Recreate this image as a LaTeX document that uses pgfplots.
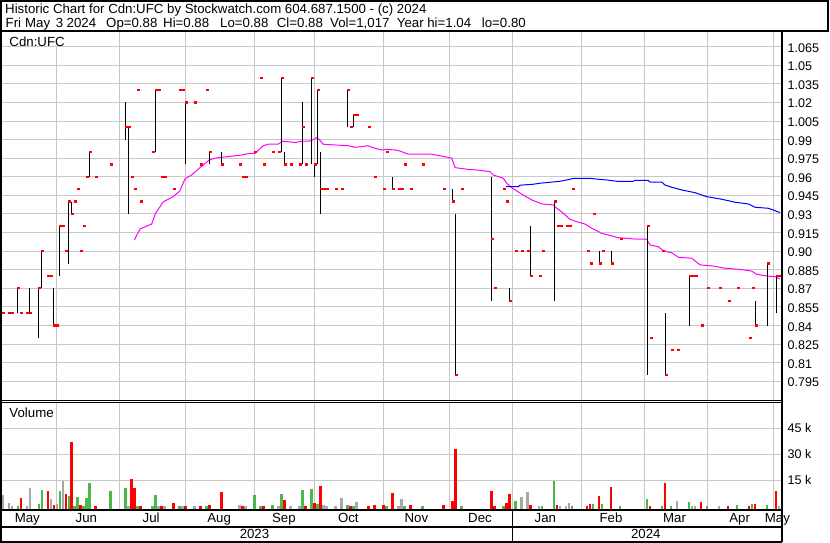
\documentclass[border=0pt]{standalone}
\usepackage{pgfplots}
\pgfplotsset{compat=1.18}
\usepackage{pgfplotstable}
\usepackage{fontspec}
\setmainfont{Liberation Sans}
\definecolor{gridgrey}{RGB}{200,200,200}
\definecolor{volgreen}{RGB}{76,184,72}
\definecolor{volgrey}{RGB}{168,168,168}
\definecolor{maMag}{RGB}{255,0,255}
\definecolor{maBlue}{RGB}{0,0,255}
\newcommand{\hfont}{\fontsize{13.3}{15}\selectfont}
\newcommand{\tfont}{\fontsize{12.6}{14}\selectfont}
\pgfdeclareplotmark{closetick}{\pgfpathrectangle{\pgfqpoint{-0.5bp}{-1.1bp}}{\pgfqpoint{3.1bp}{2.2bp}}\pgfusepath{fill}}

% day index (weekdays from 3 May 2023), high, low, close
\pgfplotstableread{
x hi lo cl
3 0.85 0.85 0.85
5 0.85 0.85 0.85
6 0.85 0.85 0.85
8 0.87 0.85 0.87
9 0.85 0.85 0.85
11 0.85 0.85 0.85
12 0.87 0.85 0.85
15 0.87 0.83 0.87
16 0.90 0.87 0.90
18 0.88 0.88 0.88
19 0.88 0.88 0.88
20 0.87 0.84 0.84
21 0.84 0.84 0.84
22 0.92 0.88 0.92
23 0.92 0.92 0.92
24 0.90 0.90 0.90
25 0.94 0.89 0.94
26 0.94 0.93 0.93
27 0.94 0.94 0.94
28 0.95 0.95 0.95
29 0.90 0.90 0.90
30 0.92 0.92 0.92
31 0.96 0.96 0.96
32 0.98 0.96 0.98
34 0.96 0.96 0.96
39 0.97 0.97 0.97
44 1.02 0.99 1.00
45 1.00 0.93 1.00
46 0.96 0.96 0.96
47 0.95 0.95 0.95
48 1.03 1.03 1.03
49 0.94 0.94 0.94
53 0.98 0.98 0.98
54 1.03 0.98 1.03
55 1.03 1.03 1.03
56 0.96 0.96 0.96
57 0.96 0.96 0.96
60 0.95 0.95 0.95
62 1.03 1.03 1.03
63 1.03 1.03 1.03
64 1.02 0.97 1.02
67 1.02 1.02 1.02
69 0.97 0.97 0.97
71 1.03 1.03 1.03
72 0.98 0.97 0.98
76 0.98 0.97 0.97
82 0.97 0.97 0.97
83 0.96 0.96 0.96
84 0.96 0.96 0.96
87 0.98 0.98 0.98
89 1.04 1.04 1.04
90 0.97 0.97 0.97
93 0.98 0.98 0.98
95 0.98 0.98 0.98
96 1.04 0.98 1.04
97 0.98 0.97 0.97
99 0.97 0.97 0.97
102 0.97 0.97 0.97
103 1.02 0.97 1.00
104 0.97 0.97 0.97
106 1.04 0.97 1.04
107 0.97 0.96 0.97
108 1.03 0.97 1.03
109 0.98 0.93 0.95
110 0.95 0.95 0.95
111 0.95 0.95 0.95
114 0.95 0.95 0.95
116 0.95 0.95 0.95
118 1.03 1.00 1.03
119 1.00 1.00 1.00
120 1.01 1.00 1.01
121 1.01 1.01 1.01
125 1.00 1.00 1.00
127 0.96 0.96 0.96
130 0.95 0.95 0.95
131 0.98 0.98 0.98
133 0.96 0.95 0.95
135 0.95 0.95 0.95
136 0.95 0.95 0.95
137 0.97 0.97 0.97
139 0.95 0.95 0.95
143 0.97 0.97 0.97
150 0.95 0.95 0.95
153 0.95 0.94 0.94
154 0.93 0.80 0.80
156 0.95 0.95 0.95
166 0.96 0.86 0.91
167 0.87 0.87 0.87
170 0.95 0.95 0.95
171 0.94 0.94 0.94
172 0.87 0.86 0.86
174 0.90 0.90 0.90
176 0.90 0.90 0.90
178 0.90 0.90 0.90
179 0.92 0.88 0.88
182 0.88 0.88 0.88
183 0.90 0.90 0.90
187 0.94 0.86 0.94
188 0.92 0.92 0.92
189 0.92 0.92 0.92
191 0.92 0.92 0.92
192 0.92 0.92 0.92
193 0.95 0.95 0.95
198 0.90 0.90 0.90
199 0.89 0.89 0.89
200 0.93 0.93 0.93
202 0.90 0.89 0.89
203 0.90 0.90 0.90
206 0.90 0.89 0.89
209 0.91 0.91 0.91
218 0.92 0.80 0.92
219 0.83 0.83 0.83
223 0.90 0.90 0.90
224 0.85 0.80 0.80
226 0.82 0.82 0.82
228 0.82 0.82 0.82
232 0.88 0.84 0.88
233 0.88 0.88 0.88
234 0.88 0.88 0.88
236 0.84 0.84 0.84
238 0.87 0.87 0.87
242 0.87 0.87 0.87
245 0.86 0.86 0.86
248 0.87 0.87 0.87
252 0.83 0.83 0.83
253 0.87 0.87 0.87
254 0.86 0.84 0.84
258 0.89 0.84 0.89
261 0.88 0.85 0.88
262 0.88 0.88 0.88
}\ohlc

\pgfplotstableread{
x y
46.9 0.9090
48.8 0.9179
52.7 0.9219
54.0 0.9306
56.6 0.9399
59.9 0.9440
62.1 0.9486
63.8 0.9583
66.0 0.9615
68.8 0.9674
71.9 0.9736
73.8 0.9750
76.0 0.9758
79.2 0.9766
82.7 0.9776
84.9 0.9787
87.2 0.9790
89.9 0.9851
91.6 0.9863
94.9 0.9863
96.3 0.9887
98.3 0.9883
100.5 0.9876
102.7 0.9887
105.5 0.9889
106.9 0.9903
107.7 0.9916
108.5 0.9903
109.9 0.9863
112.2 0.9859
118.3 0.9851
120.5 0.9838
122.7 0.9843
124.7 0.9851
127.2 0.9830
129.4 0.9816
131.1 0.9822
133.9 0.9816
135.5 0.9808
138.3 0.9782
146.1 0.9782
150.5 0.9762
152.8 0.9750
153.9 0.9674
157.8 0.9661
161.1 0.9655
165.5 0.9642
166.6 0.9615
170.0 0.9588
171.1 0.9548
172.8 0.9512
176.6 0.9453
179.5 0.9413
182.8 0.9381
186.7 0.9373
187.8 0.9346
190.0 0.9306
192.2 0.9257
194.5 0.9238
197.2 0.9219
199.5 0.9185
202.8 0.9144
208.3 0.9109
214.0 0.9098
217.8 0.9096
218.9 0.9050
221.7 0.9036
223.4 0.9002
226.1 0.8988
228.4 0.8951
232.8 0.8943
235.6 0.8889
240.0 0.8880
243.9 0.8862
248.4 0.8854
252.8 0.8840
254.5 0.8813
257.8 0.8800
260.6 0.8794
262.3 0.8776
}\maMagT

\pgfplotstableread{
x y
170.9 0.9520
175.0 0.9520
175.5 0.9532
180.0 0.9540
182.2 0.9548
185.6 0.9556
188.9 0.9564
192.2 0.9580
193.3 0.9588
198.9 0.9588
200.6 0.9583
204.5 0.9574
207.8 0.9564
213.3 0.9564
213.9 0.9572
218.3 0.9572
218.9 0.9558
222.8 0.9558
223.9 0.9534
226.1 0.9516
229.5 0.9494
233.9 0.9472
237.8 0.9440
242.8 0.9419
247.3 0.9395
251.7 0.9381
254.0 0.9354
258.4 0.9346
260.0 0.9332
262.3 0.9311
}\maBlueT

\pgfplotstableread{
x v
9 4800
18 8850
20 500
24 7100
26 37100
29 500
34 150
46 15800
47 10600
49 150
56 150
60 1900
64 150
69 250
72 750
76 8300
83 400
90 150
97 3650
104 150
107 1900
109 11700
119 250
125 150
127 750
130 750
133 7700
139 750
150 750
153 3100
154 33100
166 8850
167 250
171 1900
172 7100
179 750
188 750
198 250
199 1350
202 6000
206 11150
219 250
224 13500
236 2500
245 250
252 400
254 1350
261 8850
}\volred

\pgfplotstableread{
x v
8 400
15 1350
16 9400
22 8850
25 6000
27 400
28 5400
30 250
31 4800
32 13500
39 8850
44 10600
48 400
53 400
54 6500
62 250
71 250
87 6500
89 150
93 750
96 7100
103 9400
106 10000
108 1350
118 750
120 400
131 400
137 250
143 250
156 400
170 250
174 3100
183 400
187 14600
193 250
200 1350
203 1350
209 400
218 4200
223 250
226 150
232 2500
238 250
248 750
253 1350
258 750
}\volgreenT

\pgfplotstableread{
x v
3 6500
5 1900
6 400
11 400
12 10600
19 4200
21 1350
23 14600
45 150
55 150
57 150
63 150
67 150
82 750
84 250
95 250
99 250
102 250
110 750
111 400
114 250
116 4800
121 2500
135 150
136 4200
176 5400
178 8300
182 250
189 400
191 250
192 1900
228 3100
233 250
234 250
242 250
262 250
}\volgreyT

\begin{document}
\begin{tikzpicture}[x=1bp,y=1bp]
\path[use as bounding box, fill=white] (0,0) rectangle (830,543);

% ---------------- price panel ----------------
\begin{axis}[
  at={(2bp,143bp)}, anchor=south west,
  width=779bp, height=368bp, scale only axis,
  xmin=2.7685, xmax=262.61, ymin=0.77991, ymax=1.07685,
  axis line style={draw=none}, major tick length=0pt,
  xtick={21,42,64,87,107,130,152,173,196,217,238,260}, xticklabels={},
  ytick={0.795,0.81,0.825,0.84,0.855,0.87,0.885,0.9,0.915,0.93,0.945,0.96,0.975,0.99,1.005,1.02,1.035,1.05,1.065},
  yticklabels={0.795,0.81,0.825,0.84,0.855,0.87,0.885,0.90,0.915,0.93,0.945,0.96,0.975,0.99,1.005,1.02,1.035,1.05,1.065},
  yticklabel pos=right,
  yticklabel style={anchor=west, inner sep=0pt, xshift=6.5bp, yshift=-1.2bp, font=\tfont},
  grid=major, major grid style={gridgrey, line width=1bp},
]
\addplot[maMag, line width=1bp] table[x=x,y=y]{\maMagT};
\addplot[maBlue, line width=1bp] table[x=x,y=y]{\maBlueT};
\addplot[draw=none, mark=none,
  error bars/.cd, y dir=plus, y explicit, error mark=none,
  error bar style={draw=black, solid, line width=1.1bp}]
  table[x=x, y=lo, y error plus expr=\thisrow{hi}-\thisrow{lo}]{\ohlc};
\addplot[only marks, mark=closetick, red, mark options={draw=none, fill=red}] table[x=x, y=cl]{\ohlc};
\end{axis}

% ---------------- volume panel ----------------
\begin{axis}[
  at={(2bp,34bp)}, anchor=south west,
  width=779bp, height=106bp, scale only axis,
  xmin=2.7685, xmax=262.61, ymin=-1558, ymax=59596,
  axis line style={draw=none}, major tick length=0pt,
  xtick={21,42,64,87,107,130,152,173,196,217,238,260}, xticklabels={},
  extra x ticks={11.2,30.9,52.5,75.2,96.8,118.3,141.0,162.2,184.0,205.9,227.1,248.8,261.4},
  extra x tick labels={May,Jun,Jul,Aug,Sep,Oct,Nov,Dec,Jan,Feb,Mar,Apr,May},
  extra x tick style={grid=none, xticklabel style={anchor=base, inner sep=0pt, yshift=-13.5bp, font=\hfont}},
  ytick={15000,30000,45000}, yticklabels={15 k,30 k,45 k},
  scaled y ticks=false,
  yticklabel pos=right,
  yticklabel style={anchor=west, inner sep=0pt, xshift=6.5bp, font=\tfont},
  grid=major, major grid style={gridgrey, line width=1bp},
]
\addplot[draw=none, mark=none,
  error bars/.cd, y dir=minus, y fixed=70000, error mark=none,
  error bar style={draw=volgrey, solid, line width=2.3bp}] table[x=x,y=v]{\volgreyT};
\addplot[draw=none, mark=none,
  error bars/.cd, y dir=minus, y fixed=70000, error mark=none,
  error bar style={draw=volgreen, solid, line width=2.3bp}] table[x=x,y=v]{\volgreenT};
\addplot[draw=none, mark=none,
  error bars/.cd, y dir=minus, y fixed=70000, error mark=none,
  error bar style={draw=red, solid, line width=2.3bp}] table[x=x,y=v]{\volred};
\end{axis}

% ---------------- labels ----------------
\fill[white] (2,543-45.6) rectangle (64,543-32);
\node[anchor=base west, inner sep=0pt, font=\hfont] at (9.3,543-46.2) {Cdn:UFC};
\node[anchor=base west, inner sep=0pt, font=\hfont] at (9.3,543-417.8) {Volume};

\node[anchor=base west, inner sep=0pt, font=\hfont] at (5,543-13.6)
  {Historic Chart for Cdn:UFC by Stockwatch.com 604.687.1500 - (c) 2024};
\begin{scope}[every node/.style={anchor=base west, inner sep=0pt, font=\hfont}]
\node at (5.5,543-27.8) {Fri};
\node at (25,543-27.8) {May};
\node at (55.8,543-27.8) {3};
\node at (66.5,543-27.8) {2024};
\node at (106,543-27.8) {Op=0.88};
\node at (163,543-27.8) {Hi=0.88};
\node at (220,543-27.8) {Lo=0.88};
\node at (276.7,543-27.8) {Cl=0.88};
\node at (330,543-27.8) {Vol=1,017};
\node at (396.7,543-27.8) {Year hi=1.04};
\node at (481.7,543-27.8) {lo=0.80};
\end{scope}

\node[anchor=base, inner sep=0pt, font=\hfont] at (254.5,543-539) {2023};
\node[anchor=base, inner sep=0pt, font=\hfont] at (645.8,543-539) {2024};

% ---------------- frames ----------------
\draw[line width=2bp] (1,542) rectangle (828,512);
\draw[line width=2bp] (1,543) -- (1,1);
\draw[line width=2.4bp] (782,512) -- (782,0.5);
\draw[line width=1bp] (0,543-400.5) -- (782,543-400.5);
\draw[line width=1bp] (0,543-402.5) -- (782,543-402.5);
\draw[line width=2.3bp] (0,543-510) -- (782,543-510);
\draw[line width=2bp] (0,543-527) -- (782,543-527);
\draw[line width=2bp] (0,543-541.8) -- (782,543-541.8);
\draw[line width=1.3bp] (512.3,543-510) -- (512.3,543-541.8);
\end{tikzpicture}
\end{document}
